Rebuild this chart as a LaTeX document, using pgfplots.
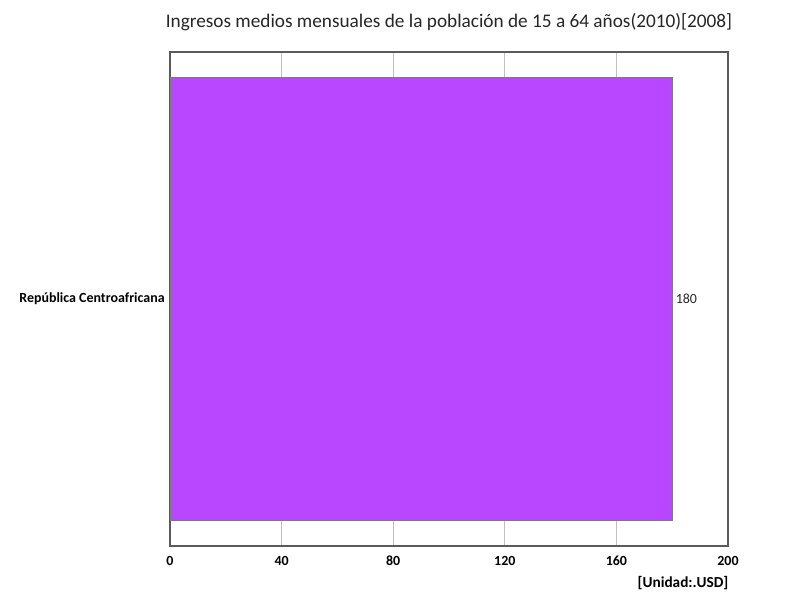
\documentclass[border=0pt]{standalone}
\usepackage{fontspec}
\setmainfont{Carlito}
\usepackage{pgfplots}
\pgfplotsset{compat=1.18}
\definecolor{barfill}{HTML}{B847FF}
\definecolor{baredge}{HTML}{7A7A7A}
\definecolor{frame}{HTML}{5A5A5A}
\definecolor{gridc}{HTML}{C0C0C0}
\begin{document}
\begin{tikzpicture}
\path[use as bounding box] (0,0) rectangle (600bp,450bp);
\begin{axis}[
  at={(127.5bp,40.5bp)}, anchor=south west,
  scale only axis, width=418.5bp, height=370.5bp,
  xbar, xmin=0, xmax=200, ymin=-0.5, ymax=0.5,
  xtick={0,40,80,120,160,200},
  ytick={0}, yticklabels={República Centroafricana},
  xmajorgrids, major grid style={gridc, line width=0.9pt},
  major tick length=0pt,
  axis line style={frame, line width=0.9pt},
  /pgf/number format/assume math mode=true,
  ticklabel style={font=\bfseries\fontsize{10.5}{12}\selectfont, text=black},
  xticklabel style={yshift=-4pt},
  yticklabel style={xshift=-0.5pt},
  bar width=0.897,
  nodes near coords, point meta=explicit symbolic,
  nodes near coords style={anchor=west, font=\fontsize{10.5}{12}\selectfont, text=black!85, xshift=-1pt},
]
\addplot[fill=barfill, draw=baredge, line width=0.7pt] coordinates {(180,0) [180]};
\end{axis}
\node[font=\fontsize{14.5}{16}\selectfont, text=black!85] at (336.75bp,433.5bp) {Ingresos medios mensuales de la población de 15 a 64 años(2010)[2008]};
\node[anchor=east, font=\bfseries\fontsize{11.5}{13}\selectfont, inner xsep=0pt] at (546.5bp,12.75bp) {[Unidad:.USD]};
\end{tikzpicture}
\end{document}
